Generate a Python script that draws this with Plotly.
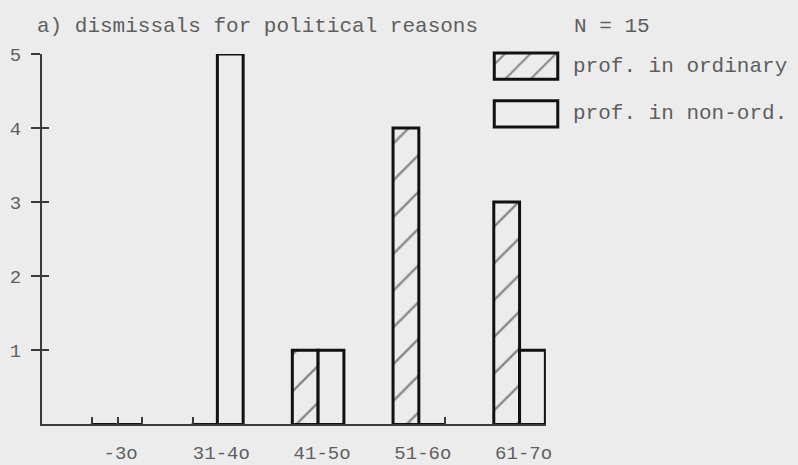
import plotly.graph_objects as go

# age groups (the scan prints zeros as small "o")
categories = ["-3o", "31-4o", "41-5o", "51-6o", "61-7o"]
prof_ordinary = [0, 0, 1, 4, 3]
prof_non_ord = [0, 5, 1, 0, 1]
y_ticks = [1, 2, 3, 4, 5]
x_small_ticks = [-0.244, 0.01, 0.248, 0.754, 3.256]
legend_rows = ["prof. in ordinary", "prof. in non-ord."]
legend_shapes = ["/", ""]
title_text = "a) dismissals for political reasons"
n_text = "N = 15"

W, H = 798, 465
BG = "#ececec"
INK = "#111111"
AXC = "#3a3a3a"
TXT = "#5e5e5e"
FONT = "Liberation Mono"


def px_x(p):
    return p / W


def px_y(p):
    return 1 - p / H


x_pos = list(range(len(categories)))

fig = go.Figure()

fig.add_trace(go.Bar(
    x=x_pos, y=prof_ordinary, name=legend_rows[0],
    marker=dict(
        color=BG,
        line=dict(color=INK, width=3),
        pattern=dict(shape="/", size=26, solidity=0.09,
                     fgcolor="#222222", bgcolor=BG),
    ),
    xaxis="x", yaxis="y",
))
fig.add_trace(go.Bar(
    x=x_pos, y=prof_non_ord, name=legend_rows[1],
    marker=dict(color=BG, line=dict(color=INK, width=3)),
    xaxis="x", yaxis="y",
))

# hand-drawn style legend: two big boxes on their own little axes
fig.add_trace(go.Bar(
    x=[1] * len(legend_rows), y=[1, 0], orientation="h",
    width=0.55,
    marker=dict(
        color=BG,
        line=dict(color=INK, width=3),
        pattern=dict(shape=legend_shapes, size=18, solidity=0.11,
                     fgcolor="#222222", bgcolor=BG),
    ),
    xaxis="x2", yaxis="y2",
))

x_domain = [px_x(42), px_x(550)]
y_domain = [px_y(425.5), px_y(46)]

# the y ticks cross the axis: outside as major ticks, inside as minor ones
# (nudged a hair so plotly does not drop them under the major ticks)
y_inner_ticks = [v + 0.001 for v in y_ticks]

fig.update_layout(
    width=W, height=H,
    margin=dict(l=0, r=0, t=0, b=0),
    paper_bgcolor=BG, plot_bgcolor=BG,
    barmode="group", bargap=0.488, bargroupgap=0,
    showlegend=False,
    font=dict(family=FONT, color=TXT, size=19),
    xaxis=dict(
        domain=x_domain, range=[-0.744, 4.261], anchor="y",
        tickvals=x_pos, ticktext=categories, ticks="",
        showline=True, linecolor=AXC, linewidth=1.5,
        showgrid=False, zeroline=False,
        tickfont=dict(size=19, color=TXT),
        ticklabelstandoff=10, ticklabelshift=4,
        minor=dict(tickvals=x_small_ticks, ticks="inside", ticklen=8,
                   tickcolor=AXC, tickwidth=1.5, showgrid=False),
    ),
    yaxis=dict(
        domain=y_domain, range=[0, 5], anchor="x",
        tickvals=y_ticks, ticks="outside", ticklen=9,
        tickcolor=AXC, tickwidth=1.5,
        showline=True, linecolor=AXC, linewidth=1.5,
        showgrid=False, zeroline=False,
        tickfont=dict(size=19, color=TXT),
        ticklabelstandoff=6,
        minor=dict(tickvals=y_inner_ticks, ticks="inside", ticklen=8,
                   tickcolor=AXC, tickwidth=1.5, showgrid=False),
    ),
    xaxis2=dict(
        domain=[px_x(498 - 3.2), px_x(562 + 3.2)], range=[-0.05, 1.05],
        anchor="y2", visible=False,
    ),
    yaxis2=dict(
        domain=[px_y(132), px_y(34)], range=[-0.5, 1.5],
        anchor="x2", visible=False,
    ),
)

fig.add_annotation(
    x=px_x(35), y=px_y(18), xref="paper", yref="paper",
    text=title_text, showarrow=False, xanchor="left", yanchor="middle",
    font=dict(family=FONT, size=21, color=TXT),
)
fig.add_annotation(
    x=px_x(576), y=px_y(18), xref="paper", yref="paper",
    text=n_text, showarrow=False, xanchor="left", yanchor="middle",
    font=dict(family=FONT, size=21, color=TXT),
)
for row, label in zip([1, 0], legend_rows):
    fig.add_annotation(
        x=px_x(575), y=row, xref="paper", yref="y2",
        text=label, showarrow=False, xanchor="left", yanchor="middle",
        font=dict(family=FONT, size=21, color=TXT),
    )

fig.write_html("out.html",
               config={"displayModeBar": False},
               post_script="document.body.style.margin='0';")
